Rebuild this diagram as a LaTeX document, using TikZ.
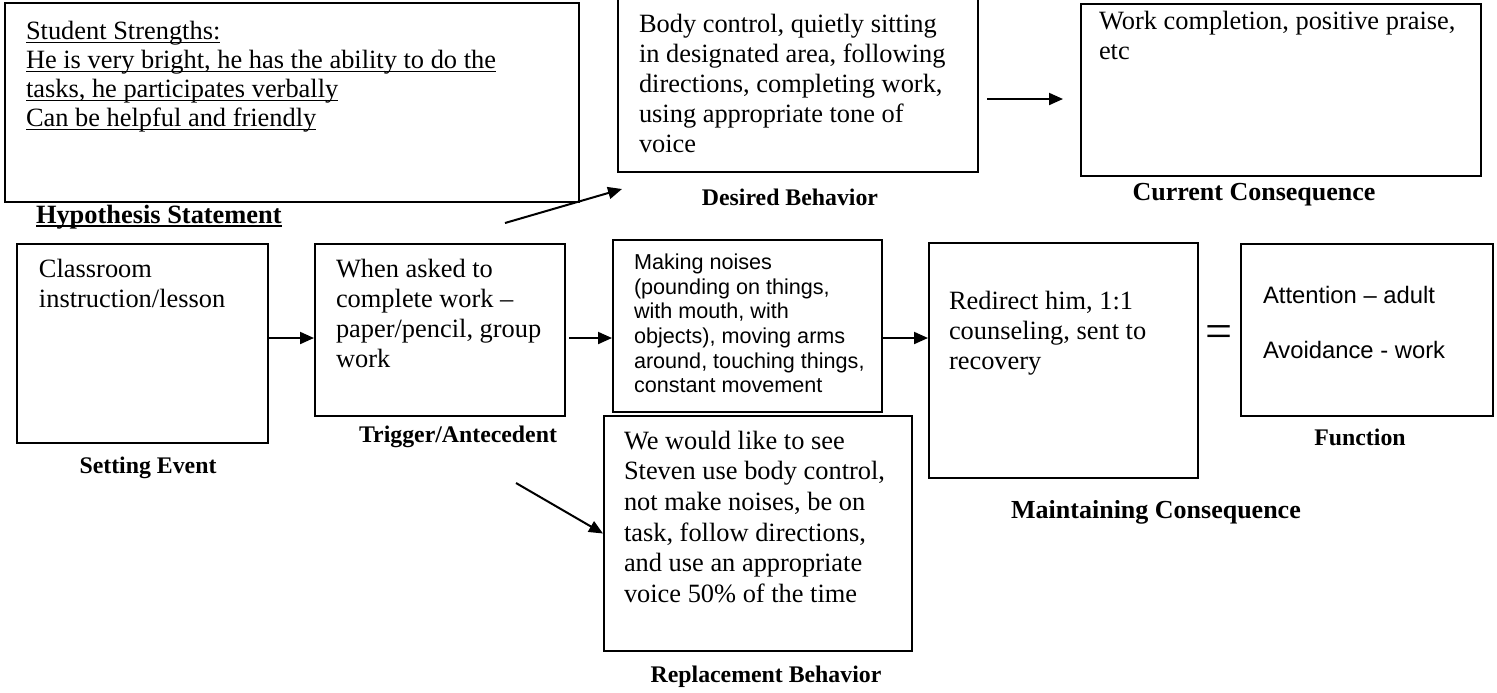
\documentclass[tikz,border=0pt]{standalone}
\usepackage{fontspec}
\setmainfont{Liberation Serif}
\newfontfamily\arialfont{Liberation Sans}
\usetikzlibrary{arrows.meta}
\newlength\ulwd
\newcommand\ulline[2][0.7pt]{\settowidth{\ulwd}{#2}\rlap{\rule[-1.8pt]{\ulwd}{#1}}#2}
\tikzset{every picture/.style={line width=1pt}}
\tikzset{
  box/.style={draw, line width=1pt, anchor=north west, inner sep=0pt},
  txt/.style={anchor=north west, inner sep=0pt, align=left, font=\fontsize{13.2}{15}\selectfont},
  sanstxt/.style={anchor=north west, inner sep=0pt, align=left, font=\arialfont\fontsize{10.8}{12.3}\selectfont},
  lbl/.style={inner sep=0pt, font=\bfseries\fontsize{11.9}{13}\selectfont},
  biglbl/.style={lbl, font=\bfseries\fontsize{13}{15}\selectfont},
  arr/.style={-{Triangle[length=7pt,width=6pt]}, line width=1pt},
}

\begin{document}
\begin{tikzpicture}[x=0.5pt,y=0.5pt,yscale=-1,xscale=1]
\useasboundingbox (0,0) rectangle (1497,692);

%Shape: Rectangle [strengths]
\node[box, minimum width=287pt, minimum height=99.5pt] (strengths) at (4,2) {};
% Text Node
\node[txt, font=\fontsize{13.2}{14.5}\selectfont] (strengthstxt) at (25,20) {\ulline{Student Strengths:}\\ \ulline{He is very bright, he has the ability to do the}\\ \ulline{tasks, he participates verbally}\\ \ulline{Can be helpful and friendly}};
% Text Node
\node[biglbl, font=\bfseries\fontsize{13.2}{15}\selectfont, anchor=west] (hyp) at (35,217) {\ulline[1pt]{Hypothesis Statement}};

%Shape: Rectangle [desired]
\node[box, minimum width=180pt, minimum height=90.5pt] (desired) at (617,-10) {};
\node[txt] (desiredtxt) at (638,13) {Body control, quietly sitting\\ in designated area, following\\ directions, completing work,\\ using appropriate tone of\\ voice};
\node[lbl] (desiredlbl) at (790,197) {Desired Behavior};

%Shape: Rectangle [current]
\node[box, minimum width=200pt, minimum height=86pt] (current) at (1080,3) {};
\node[txt] (currenttxt) at (1098,10) {Work completion, positive praise,\\ etc};
\node[biglbl] (currentlbl) at (1254,195) {Current Consequence};

%Shape: Rectangle [setting]
\node[box, minimum width=125.5pt, minimum height=99.5pt] (setting) at (16,243) {};
\node[txt] (settingtxt) at (38,258) {Classroom\\ instruction/lesson};
\node[lbl] (settinglbl) at (148,468) {Setting Event};

%Shape: Rectangle [trigger]
\node[box, minimum width=125pt, minimum height=86pt] (trigger) at (314,243) {};
\node[txt] (triggertxt) at (335,258) {When asked to\\ complete work –\\ paper/pencil, group\\ work};
\node[lbl] (triggerlbl) at (458,437) {Trigger/Antecedent};

%Shape: Rectangle [behavior]
\node[box, minimum width=134.5pt, minimum height=86pt] (behavior) at (612,239) {};
\node[sanstxt] (behaviortxt) at (633,253) {Making noises\\ (pounding on things,\\ with mouth, with\\ objects), moving arms\\ around, touching things,\\ constant movement};

%Shape: Rectangle [maintain]
\node[box, minimum width=134.5pt, minimum height=117.5pt] (maintain) at (928,242) {};
\node[txt] (maintaintxt) at (948,290) {Redirect him, 1:1\\ counseling, sent to\\ recovery};
\node[biglbl] (maintainlbl) at (1156,512) {Maintaining Consequence};

% Text Node
\node[inner sep=0pt, font=\fontsize{24}{24}\selectfont] (equals) at (1219,337) {=};

%Shape: Rectangle [function]
\node[box, minimum width=126pt, minimum height=86pt] (function) at (1240,243) {};
\node[sanstxt, font=\arialfont\fontsize{11.9}{13.7}\selectfont] (functiontxt) at (1262,285) {Attention – adult\\[13.7pt] Avoidance - work};
\node[lbl] (functionlbl) at (1360,437) {Function};

%Shape: Rectangle [replace]
\node[box, minimum width=154pt, minimum height=117.5pt] (replace) at (603,415) {};
\node[txt, font=\fontsize{13.2}{15.3}\selectfont] (replacetxt) at (623,430) {We would like to see\\ Steven use body control,\\ not make noises, be on\\ task, follow directions,\\ and use an appropriate\\ voice 50\% of the time};
\node[lbl] (replacelbl) at (766,677) {Replacement Behavior};

%Straight Lines
\coordinate (row) at (0,338);
\draw[arr] (setting.east |- row) -- (trigger.west |- row);
\draw[arr] ([xshift=1.5pt]trigger.east |- row) -- (behavior.west |- row);
\draw[arr] (behavior.east |- row) -- (maintain.west |- row);
\coordinate (hypend) at (505,223);
\coordinate (desiredpt) at (622,189);
\draw[arr] (hypend) -- (desiredpt);
\coordinate (cstart) at (987,99);
\draw[arr] (cstart) -- ([xshift=-8.5pt]current.west |- cstart);
\coordinate (rstart) at (516,483);
\draw[arr] (rstart) -- (replace.west);

\end{tikzpicture}
\end{document}
